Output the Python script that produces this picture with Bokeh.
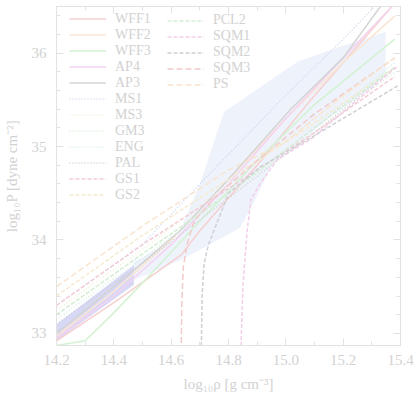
from bokeh.plotting import figure
from bokeh.models import (Legend, LegendItem, LinearAxis, FixedTicker, Range1d,
                          NumeralTickFormatter, CustomLabelingPolicy)
from bokeh.embed import file_html
from bokeh.resources import INLINE

# ---------------- data ----------------
band_x = [14.15, 14.47, 14.47, 14.15]
band_y = [32.98, 33.73, 33.52, 32.81]

region_x = [14.468, 14.62, 14.70, 14.784, 15.042, 15.181, 15.348, 15.348,
            15.15, 14.95, 14.88, 14.84, 14.74, 14.63, 14.468]
region_y = [33.76, 34.02, 34.6, 35.37, 35.91, 36.06, 36.23, 35.75,
            35.3, 34.8, 34.35, 34.13, 33.96, 33.78, 33.57]

wff1_x = [14.2, 14.4, 14.635, 14.7, 14.9, 15.087, 15.37]
wff1_y = [32.92, 33.33, 33.84, 34.1, 34.8, 35.5, 36.5]
wff2_x = [14.2, 14.4, 14.6, 14.8, 15.0, 15.2, 15.38]
wff2_y = [32.97, 33.45, 34.0, 34.65, 35.3, 35.9, 36.4]
wff3_x = [14.2, 14.3, 14.39, 14.5, 14.7, 14.9, 15.1, 15.38]
wff3_y = [32.87, 32.92, 33.19, 33.54, 34.2, 34.85, 35.45, 36.15]
ap4_x = [14.2, 14.4, 14.6, 14.8, 15.0, 15.2, 15.37]
ap4_y = [32.95, 33.4, 33.95, 34.6, 35.3, 35.95, 36.5]
ap3_x = [14.2, 14.46, 14.635, 14.8, 15.017, 15.2, 15.33]
ap3_y = [33.0, 33.65, 34.11, 34.65, 35.4, 35.95, 36.5]

ms1_x = [14.2, 14.5, 14.7, 15.0, 15.2, 15.31]
ms1_y = [33.3, 33.95, 34.6, 35.55, 36.15, 36.5]
ms3_x = [14.2, 14.5, 14.8, 15.1, 15.38]
ms3_y = [33.25, 33.9, 34.6, 35.3, 35.95]
gm3_x = [14.2, 14.5, 14.8, 15.1, 15.38]
gm3_y = [33.2, 33.85, 34.5, 35.15, 35.8]
eng_x = [14.2, 14.5, 14.8, 15.1, 15.38]
eng_y = [33.15, 33.8, 34.5, 35.2, 35.9]
pal_x = [14.2, 14.5, 14.8, 15.1, 15.38]
pal_y = [33.1, 33.75, 34.45, 35.15, 35.85]

gs1_x = [14.2, 14.5, 14.8, 15.1, 15.38]
gs1_y = [33.3, 33.95, 34.55, 35.15, 35.75]
gs2_x = [14.2, 14.5, 14.8, 15.1, 15.38]
gs2_y = [33.4, 34.05, 34.65, 35.25, 35.85]
pcl2_x = [14.2, 14.5, 14.8, 15.1, 15.38]
pcl2_y = [33.2, 33.85, 34.5, 35.2, 35.85]

sqm1_x = [14.843, 14.85, 14.865, 14.878, 14.91, 14.97, 15.087, 15.39]
sqm1_y = [32.8, 33.5, 34.1, 34.43, 34.6, 34.86, 35.08, 35.86]
sqm2_x = [14.705, 14.708, 14.715, 14.73, 14.8, 14.91, 15.09, 15.39]
sqm2_y = [32.8, 33.4, 33.75, 33.95, 34.5, 34.78, 35.1, 35.65]
sqm3_x = [14.635, 14.637, 14.642, 14.655, 14.68, 14.75, 14.9, 15.1, 15.38]
sqm3_y = [32.8, 33.3, 33.7, 33.95, 34.2, 34.45, 34.85, 35.35, 35.95]
ps_x = [14.2, 14.5, 14.8, 15.0, 15.2, 15.38]
ps_y = [33.5, 34.15, 34.75, 35.05, 35.55, 35.95]

x_ticks = [14.2, 14.4, 14.6, 14.8, 15.0, 15.2, 15.4]
y_ticks = [33, 34, 35, 36]

# ---------------- styling ----------------
FONT = "Liberation Serif"
TXT = "#d2d2d2"
FRAME = "#e2e2e2"

p = figure(width=416, height=397, output_backend="svg", toolbar_location=None,
           x_range=Range1d(14.2, 15.4), y_range=Range1d(32.87, 36.5),
           min_border_left=55, min_border_right=16, min_border_top=6,
           min_border_bottom=52)
p.background_fill_color = "white"
p.border_fill_color = "white"
p.outline_line_color = FRAME
p.grid.visible = False

p.patch(region_x, region_y, fill_color="#eef2fb", line_color=None)
p.patch(band_x, band_y, fill_color="#d7d7f6", line_color=None)

DOT = "1 2"
DASH = "4 2"

specs = [
    ("WFF1", wff1_x, wff1_y, "#f6cfcf", "solid"),
    ("WFF2", wff2_x, wff2_y, "#fae6d4", "solid"),
    ("WFF3", wff3_x, wff3_y, "#d2f2d2", "solid"),
    ("AP4", ap4_x, ap4_y, "#f5d2f0", "solid"),
    ("AP3", ap3_x, ap3_y, "#d4d4d4", "solid"),
    ("MS1", ms1_x, ms1_y, "#d2d9f0", DOT),
    ("MS3", ms3_x, ms3_y, "#f0eed6", DOT),
    ("GM3", gm3_x, gm3_y, "#d4efd8", DOT),
    ("ENG", eng_x, eng_y, "#d4efe6", DOT),
    ("PAL", pal_x, pal_y, "#d0d0d0", DOT),
    ("GS1", gs1_x, gs1_y, "#f3cbd6", DASH),
    ("GS2", gs2_x, gs2_y, "#f4ebd0", DASH),
    ("PCL2", pcl2_x, pcl2_y, "#d4efd4", DASH),
    ("SQM1", sqm1_x, sqm1_y, "#f3cee8", DASH),
    ("SQM2", sqm2_x, sqm2_y, "#cfcfd5", DASH),
    ("SQM3", sqm3_x, sqm3_y, "#f3caca", "6 3"),
    ("PS", ps_x, ps_y, "#f9e4cf", "6 3"),
]

items = []
for name, xs, ys, col, dash in specs:
    r = p.line(xs, ys, line_color=col, line_width=1.5, line_dash=dash)
    items.append(LegendItem(label=name, renderers=[r]))

PITCH = 15.8   # row height Bokeh gives with these settings
TOP = 13.2     # px below the figure top where the legend starts
FRAME_BOTTOM = 345

def make_legend(its, x_off):
    y_off = FRAME_BOTTOM - (TOP + PITCH * len(its))
    lg = Legend(items=its, location=(x_off, y_off), orientation="vertical",
                padding=0, margin=0, spacing=0, glyph_width=37, glyph_height=15,
                label_height=15, label_standoff=9, border_line_color=None,
                background_fill_alpha=0, label_text_font=FONT,
                label_text_font_size="14px", label_text_color=TXT,
                label_text_line_height=0.9)
    return lg

p.add_layout(make_legend(items[:12], 13))
p.add_layout(make_legend(items[12:], 111))

def style_axis(ax, labels=True):
    ax.axis_line_color = FRAME
    ax.major_tick_line_color = FRAME
    ax.minor_tick_line_color = FRAME
    ax.major_tick_in = 7
    ax.major_tick_out = 0
    ax.minor_tick_in = 4
    ax.minor_tick_out = 0
    ax.major_label_text_font = FONT
    ax.major_label_text_font_size = "15px"
    ax.major_label_text_color = TXT
    ax.axis_label_text_font = FONT
    ax.axis_label_text_font_style = "normal"
    ax.axis_label_text_font_size = "15px"
    ax.axis_label_text_color = TXT
    if not labels:
        ax.major_label_text_font_size = "0px"
        ax.major_label_standoff = 0
        ax.major_label_policy = CustomLabelingPolicy(
            code="const a = [...indices]; for (const i of a) indices.unset(i); return indices")

xt = FixedTicker(ticks=x_ticks, minor_ticks=[14.3, 14.5, 14.7, 14.9, 15.1, 15.3])
yt = FixedTicker(ticks=y_ticks, minor_ticks=[32.8, 33.2, 33.4, 33.6, 33.8, 34.2, 34.4, 34.6,
                                             34.8, 35.2, 35.4, 35.6, 35.8, 36.2, 36.4])
p.xaxis.ticker = xt
p.yaxis.ticker = yt
p.xaxis.formatter = NumeralTickFormatter(format="0.0")
p.yaxis.formatter = NumeralTickFormatter(format="0")
p.xaxis.axis_label = "log₁₀ρ [g cm⁻³]"
p.yaxis.axis_label = "log₁₀P [dyne cm⁻²]"
style_axis(p.xaxis[0])
style_axis(p.yaxis[0])
p.xaxis.major_label_standoff = 9
p.yaxis.major_label_standoff = 10
p.xaxis.axis_label_standoff = 8
p.yaxis.axis_label_standoff = 9

top = LinearAxis(ticker=xt)
style_axis(top, labels=False)
p.add_layout(top, "above")
right = LinearAxis(ticker=yt)
style_axis(right, labels=False)
p.add_layout(right, "right")

open("out.html", "w").write(file_html(p, INLINE))
